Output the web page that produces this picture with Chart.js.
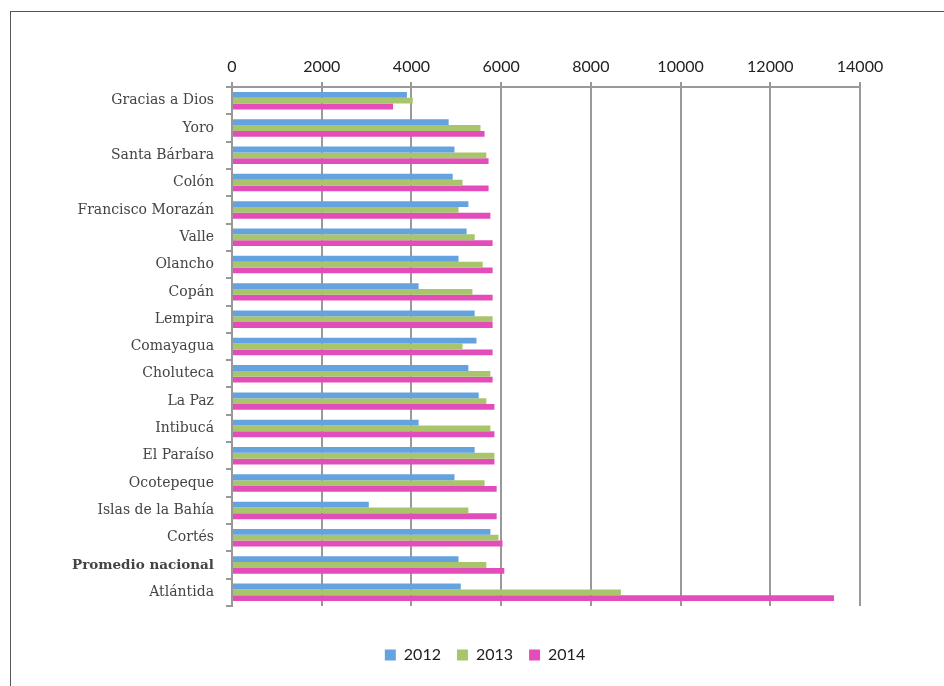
<!DOCTYPE html>
<html lang="es">
<head>
  <meta charset="UTF-8">
  <title>Departamentos 2012-2014</title>
  <script src="https://cdn.jsdelivr.net/npm/chart.js"></script>
  <style>
    body {
      margin: 0;
      width: 944px;
      height: 686px;
      overflow: hidden;
      background: #fff;
      position: relative;
    }
    #frame {
      position: absolute;
      left: 10px;
      top: 11px;
      width: 960px;
      height: 700px;
      border: 1.5px solid #555;
      box-sizing: border-box;
    }
    #chart-container {
      position: absolute;
      left: 0;
      top: 0;
      width: 944px;
      height: 686px;
    }
  </style>
</head>
<body>
  <div id="frame"></div>
  <div id="chart-container">
    <canvas id="deptChart"></canvas>
  </div>
  <script>
    const departamentos = [
      'Gracias a Dios', 'Yoro', 'Santa Bárbara', 'Colón', 'Francisco Morazán',
      'Valle', 'Olancho', 'Copán', 'Lempira', 'Comayagua', 'Choluteca',
      'La Paz', 'Intibucá', 'El Paraíso', 'Ocotepeque', 'Islas de la Bahía',
      'Cortés', 'Promedio nacional', 'Atlántida'
    ];
    const valores2012 = [3900, 4830, 4960, 4920, 5270, 5230, 5050, 4160, 5410, 5450, 5270, 5500, 4160, 5410, 4960, 3050, 5760, 5050, 5100];
    const valores2013 = [4030, 5540, 5670, 5140, 5050, 5410, 5590, 5360, 5810, 5140, 5760, 5670, 5760, 5850, 5630, 5270, 5940, 5670, 8670];
    const valores2014 = [3590, 5630, 5720, 5720, 5760, 5810, 5810, 5810, 5810, 5810, 5810, 5850, 5850, 5850, 5900, 5900, 6030, 6070, 13420];
    const anios = ['2012', '2013', '2014'];
    const colores = ['#65a3e0', '#a9c56b', '#e24db9'];

    // mover la leyenda un poco: centrada bajo el área del gráfico y más abajo
    const moverLeyenda = {
      id: 'moverLeyenda',
      afterLayout(chart) {
        const lg = chart.legend;
        if (!lg) return;
        lg.left = 110;
        lg.right = 860;
        lg.width = 750;
        lg.top += 25;
        lg.bottom += 25;
      }
    };

    const ctx = document.getElementById('deptChart').getContext('2d');
    new Chart(ctx, {
      type: 'bar',
      data: {
        labels: departamentos,
        datasets: [
          { label: anios[0], data: valores2012, backgroundColor: colores[0] },
          { label: anios[1], data: valores2013, backgroundColor: colores[1] },
          { label: anios[2], data: valores2014, backgroundColor: colores[2] }
        ]
      },
      plugins: [moverLeyenda],
      options: {
        indexAxis: 'y',
        responsive: true,
        maintainAspectRatio: false,
        animation: false,
        layout: {
          padding: { left: 0, right: 84, top: 0, bottom: 38 }
        },
        datasets: {
          bar: {
            categoryPercentage: 0.64,
            barPercentage: 1.0,
            borderWidth: 0
          }
        },
        scales: {
          x: {
            position: 'top',
            min: 0,
            max: 14000,
            ticks: {
              stepSize: 2000,
              padding: 6,
              color: '#222',
              font: { family: 'Lato', size: 16 },
              callback: v => String(v)
            },
            grid: {
              color: '#999',
              lineWidth: 2,
              tickLength: 5
            },
            border: { color: '#999', width: 2 },
            afterFit: function (scale) { scale.height = 87; }
          },
          y: {
            ticks: {
              padding: 12,
              color: '#444',
              font: function (c) {
                const bold = departamentos[c.index] === 'Promedio nacional';
                return {
                  family: 'DejaVu Serif',
                  size: bold ? 13.5 : 14,
                  weight: bold ? 'bold' : 'normal'
                };
              }
            },
            grid: {
              offset: true,
              drawOnChartArea: false,
              color: '#999',
              lineWidth: 2,
              tickLength: 6
            },
            border: { color: '#999', width: 2 },
            afterFit: function (scale) { scale.width = 232; }
          }
        },
        plugins: {
          legend: {
            position: 'bottom',
            labels: {
              boxWidth: 11,
              boxHeight: 11,
              padding: 16,
              color: '#222',
              font: { family: 'Lato', size: 16 }
            }
          },
          tooltip: { enabled: false }
        }
      }
    });
  </script>
</body>
</html>
